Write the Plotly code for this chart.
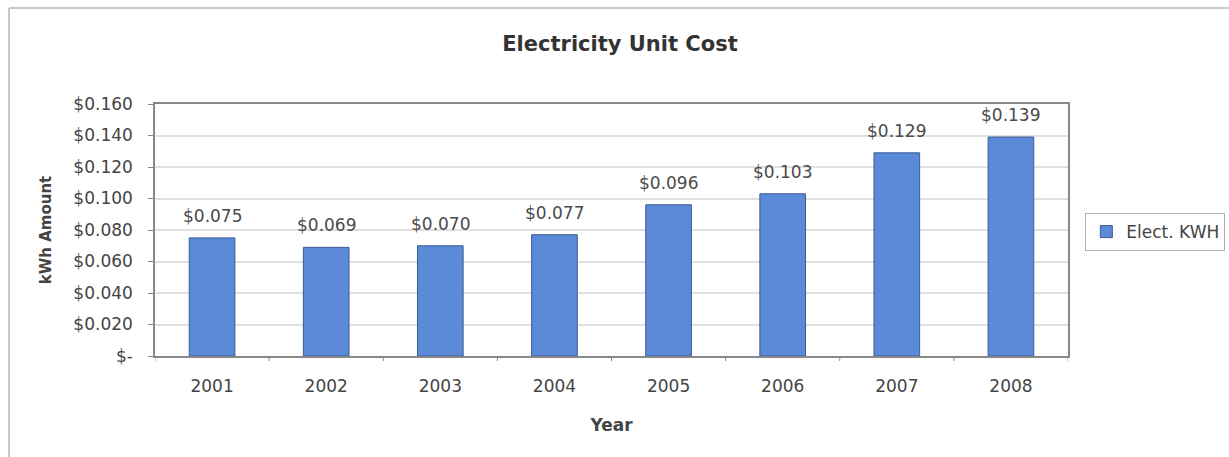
import plotly.graph_objects as go

years = ["2001", "2002", "2003", "2004", "2005", "2006", "2007", "2008"]
kwh_cost = [0.075, 0.069, 0.070, 0.077, 0.096, 0.103, 0.129, 0.139]
y_ticks = [0, 0.02, 0.04, 0.06, 0.08, 0.10, 0.12, 0.14, 0.16]
y_tick_labels = ["$-", "$0.020", "$0.040", "$0.060", "$0.080", "$0.100", "$0.120", "$0.140", "$0.160"]

FONT = "DejaVu Sans, Liberation Sans, sans-serif"
TEXT = "#404040"

fig = go.Figure()
fig.add_trace(go.Bar(
    x=years,
    y=kwh_cost,
    name="Elect. KWH",
    marker=dict(color="#5b8ad8", line=dict(color="#3b5b92", width=1)),
    width=0.4,
))

# Value labels above each bar (category index positions on the x axis)
for i, v in enumerate(kwh_cost):
    fig.add_annotation(
        x=i, y=v, xref="x", yref="y",
        text=f"${v:.3f}", showarrow=False,
        yanchor="bottom", yshift=10,
        font=dict(family=FONT, size=17, color="#4a4a4a"),
    )

fig.update_layout(
    width=1229,
    height=457,
    margin=dict(l=155, r=161, t=104, b=101, autoexpand=False),
    paper_bgcolor="white",
    plot_bgcolor="white",
    font=dict(family=FONT, color=TEXT),
    title=dict(
        text="<b>Electricity Unit Cost</b>",
        x=620 / 1229, xanchor="center",
        y=1 - 44 / 457, yanchor="middle",
        font=dict(family=FONT, size=21, color="#333333"),
    ),
    showlegend=True,
    legend=dict(
        x=1.019, xanchor="left",
        y=0.492, yanchor="middle",
        bordercolor="#b0b0b0", borderwidth=1,
        font=dict(family=FONT, size=17, color="#444444"),
        itemwidth=30,
    ),
    xaxis=dict(
        type="category",
        range=[-0.5, len(years) - 0.5],
        title=dict(text="<b>Year</b>", font=dict(family=FONT, size=17, color="#444444"), standoff=24),
        tickfont=dict(family=FONT, size=17, color="#444444"),
        ticklabelstandoff=14,
        showline=True, linecolor="#888888", linewidth=1.5, mirror=True,
        ticks="", showgrid=False,
    ),
    yaxis=dict(
        title=dict(text="<b>kWh Amount</b>", font=dict(family=FONT, size=15, color="#444444"), standoff=18),
        range=[0, 0.16],
        tickvals=y_ticks,
        ticktext=y_tick_labels,
        tickfont=dict(family=FONT, size=17, color="#444444"),
        ticklabelstandoff=12,
        showline=True, linecolor="#888888", linewidth=1.5, mirror=True,
        ticks="outside", ticklen=5, tickcolor="#888888",
        showgrid=True, gridcolor="#e0e0e0", gridwidth=1.5,
        zeroline=False,
    ),
)

# Category separator ticks below the x axis
for i in range(len(years) + 1):
    fig.add_shape(
        type="line", xref="x", yref="paper",
        x0=i - 0.5, x1=i - 0.5, y0=0, y1=-0.02,
        line=dict(color="#888888", width=1),
    )

# Outer chart frame (top and left edges)
fig.add_shape(type="line", xref="paper", yref="paper",
              x0=(9 - 155) / 913, x1=(1229 - 155) / 913,
              y0=(356 - 8) / 252, y1=(356 - 8) / 252,
              line=dict(color="#c8c8c8", width=2))
fig.add_shape(type="line", xref="paper", yref="paper",
              x0=(9 - 155) / 913, x1=(9 - 155) / 913,
              y0=(356 - 8) / 252, y1=(356 - 460) / 252,
              line=dict(color="#c8c8c8", width=2))

fig.write_html("out.html")
